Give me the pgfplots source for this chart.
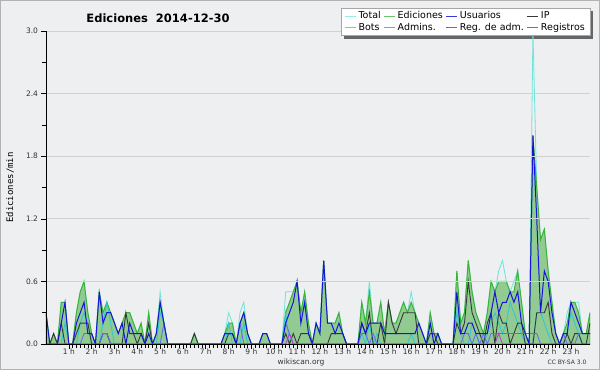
\documentclass[border=0pt]{standalone}
\usepackage{pgfplots}
\pgfplotsset{compat=1.18}
\usepackage{pgfplotstable}
\usepackage{fontspec}
\setmainfont{DejaVu Sans}
\setmonofont{DejaVu Sans Mono}
\pgfdeclarelayer{bg}
\pgfsetlayers{bg,main}
\definecolor{bgc}{RGB}{238,239,241}
\definecolor{ctotal}{RGB}{110,228,218}
\definecolor{cedit}{RGB}{55,180,55}
\definecolor{cfill}{RGB}{145,203,145}
\definecolor{cuser}{RGB}{20,20,220}
\definecolor{cip}{RGB}{55,55,55}
\definecolor{cbot}{RGB}{255,160,40}
\definecolor{cadmin}{RGB}{40,200,215}
\definecolor{cregadm}{RGB}{200,50,230}
\definecolor{creg}{RGB}{100,100,255}
\pgfplotstableread{
i T E U P A R M
0 .3 .3 .3 0 0 0 0
1 0 0 0 0 0 0 0
2 .1 .1 0 .1 0 0 0
3 0 0 0 0 0 0 0
4 .4 .4 .2 .2 0 0 0
5 .4 .4 .4 0 .2 0 0
6 0 0 0 0 0 0 0
7 0 0 0 0 0 0 0
8 .3 .3 .2 .1 0 0 0
9 .5 .5 .3 .2 .2 0 0
10 .6 .6 .4 .2 .3 .1 0
11 .3 .3 .1 .2 .2 .1 0
12 .1 .1 .1 0 0 .1 0
13 0 0 0 0 0 0 0
14 .5 .5 .5 0 0 0 0
15 .3 .3 .2 .1 .2 .1 0
16 .4 .4 .3 .1 .4 .1 0
17 .3 .3 .3 0 .2 0 0
18 .2 .2 .2 0 0 0 0
19 .1 .1 .1 0 0 0 0
20 .2 .2 .2 0 0 0 0
21 .3 .3 0 .3 0 0 0
22 .3 .3 .2 .1 0 0 0
23 .2 .2 .1 .1 0 0 0
24 .1 .1 .1 0 0 0 0
25 .2 .2 .1 .1 0 0 0
26 0 0 0 0 0 0 0
27 .3 .3 .1 .2 0 0 0
28 0 0 0 0 0 0 0
29 .1 .1 .1 0 0 0 0
30 .5 .4 .4 0 .3 0 0
31 .2 .2 .2 0 .2 .2 0
32 0 0 0 0 0 0 0
33 0 0 0 0 0 0 0
34 0 0 0 0 0 0 0
35 0 0 0 0 0 0 0
36 0 0 0 0 0 0 0
37 0 0 0 0 0 0 0
38 0 0 0 0 0 0 0
39 .1 .1 0 .1 0 0 0
40 0 0 0 0 0 0 0
41 0 0 0 0 0 0 0
42 0 0 0 0 0 0 0
43 0 0 0 0 0 0 0
44 0 0 0 0 0 0 0
45 0 0 0 0 0 0 0
46 0 0 0 0 0 0 0
47 .1 .1 .1 0 0 0 0
48 .3 .2 .1 .1 .2 0 0
49 .2 .2 .1 .1 0 0 0
50 0 0 0 0 0 0 0
51 .3 .2 .2 0 0 .2 0
52 .4 .3 .3 0 .2 0 0
53 .1 .1 .1 0 0 0 0
54 0 0 0 0 0 0 0
55 0 0 0 0 0 0 0
56 0 0 0 0 0 0 0
57 .1 .1 .1 0 0 0 0
58 .1 .1 .1 0 0 0 0
59 0 0 0 0 0 0 0
60 0 0 0 0 0 0 0
61 0 0 0 0 0 0 0
62 0 0 0 0 0 0 0
63 .5 .3 .2 .1 .3 .2 0
64 .5 .4 .3 0 0 .1 .1
65 .5 .5 .4 .1 0 0 0
66 .6 .6 .6 0 0 0 0
67 .3 .3 .2 .1 0 0 0
68 .5 .5 .4 .1 0 0 0
69 .2 .2 .1 .1 0 0 0
70 0 0 0 0 0 0 0
71 .2 .2 .2 0 0 0 0
72 .1 .1 .1 0 0 0 0
73 .8 .8 .8 0 0 0 0
74 .2 .2 .2 0 0 0 0
75 .2 .2 .2 .1 0 0 0
76 .2 .2 .1 .1 0 0 0
77 .3 .3 .2 .1 0 0 0
78 .1 .1 .1 .1 0 0 0
79 0 0 0 0 0 0 0
80 0 0 0 0 0 0 0
81 0 0 0 0 0 0 0
82 0 0 0 0 0 0 0
83 .4 .4 .2 .2 .1 .1 0
84 .2 .2 .1 .1 0 .1 0
85 .6 .5 .2 .3 .2 0 0
86 .2 .2 .2 0 0 .1 0
87 .2 .2 .2 0 .1 0 0
88 .4 .4 .2 .2 0 0 0
89 .1 .1 .1 0 0 0 0
90 .4 .4 .1 .4 0 0 0
91 .2 .2 .1 .2 0 0 0
92 .2 .2 .1 .1 0 0 0
93 .3 .3 .1 .2 0 0 0
94 .4 .4 .1 .3 0 0 0
95 .3 .3 .1 .3 0 0 0
96 .5 .4 .1 .3 .1 0 0
97 .3 .3 .1 .3 0 0 0
98 .2 .2 .2 0 0 0 0
99 .1 .1 .1 0 0 0 0
100 0 0 0 0 0 0 0
101 .3 .3 .2 .1 0 0 0
102 .1 .1 0 .1 0 0 0
103 .1 .1 .1 0 0 0 0
104 0 0 0 0 0 0 0
105 0 0 0 0 0 0 0
106 0 0 0 0 0 0 0
107 0 0 0 0 0 0 0
108 .7 .7 .5 .2 .3 0 0
109 .2 .2 .1 .1 .1 0 0
110 .3 .3 .1 .2 0 .1 0
111 .8 .8 .2 .6 0 .1 0
112 .5 .5 .2 .3 .2 0 0
113 .3 .3 .1 .2 .1 .1 0
114 .2 .2 .1 .1 0 0 0
115 .1 .1 .1 0 0 .1 0
116 .3 .3 .1 .2 .1 0 0
117 .6 .6 .3 .3 .2 .1 0
118 .5 .5 .5 0 .3 .1 0
119 .7 .6 .3 .3 .2 .1 .1
120 .8 .6 .4 .2 .1 .1 0
121 .6 .6 .4 .2 .2 .1 0
122 .5 .5 .5 0 .4 .1 0
123 .6 .5 .4 .1 .3 .1 0
124 .7 .7 .5 .2 .2 .1 0
125 .4 .4 .2 .2 .1 .1 0
126 .1 .1 .1 0 0 .1 0
127 0 0 0 0 0 .1 0
128 3.0 2.0 2.0 0 0 .1 0
129 1.5 1.5 1.2 .3 .3 .1 0
130 1.0 1.0 .3 .3 .3 0 0
131 1.1 1.1 .7 .3 .2 0 0
132 .7 .7 .6 .4 .1 0 0
133 .4 .4 .3 .1 0 0 0
134 .1 .1 .1 0 0 0 0
135 0 0 0 0 0 0 0
136 .1 .1 .1 0 0 .1 0
137 .3 .2 .1 .1 .1 0 0
138 .4 .4 .4 0 .3 0 0
139 .4 .4 .3 .1 .2 0 0
140 .4 .3 .2 .1 .1 .1 0
141 .1 .1 .1 0 0 .1 0
142 .1 .1 .1 0 0 .1 0
143 .3 .3 .1 .2 0 .1 0
}\data
\begin{document}
\begin{tikzpicture}[x=1pt,y=1pt]
\begin{pgfonlayer}{bg}
\fill[bgc] (0,0) rectangle (600,370);
\draw[gray!60, line width=1pt] (0.5,0.5) rectangle (599.5,369.5);
\end{pgfonlayer}
\useasboundingbox (0,0) rectangle (600,370);
\begin{axis}[
  at={(46pt,26pt)}, anchor=south west,
  width=544pt, height=313pt, scale only axis,
  xmin=0, xmax=143, ymin=0, ymax=3.0,
  axis x line*=bottom, axis y line*=left,
  axis line style={black, line width=0.8pt, -},
  axis on top,
  tick align=outside,
  major tick length=4.5pt, minor tick length=3.5pt,
  tick style={black, line width=0.6pt},
  xtick={6,12,...,138},
  xticklabels={1 h,2 h,3 h,4 h,5 h,6 h,7 h,8 h,9 h,10 h,11 h,12 h,13 h,14 h,15 h,16 h,17 h,18 h,19 h,20 h,21 h,22 h,23 h},
  minor x tick num=5,
  ytick={0,0.6,1.2,1.8,2.4,3.0},
  yticklabels={0.0,0.6,1.2,1.8,2.4,3.0},
  minor ytick={0.3,0.9,1.5,2.1,2.7},
  ymajorgrids, grid style={black!18, line width=0.7pt},
  ticklabel style={font=\fontsize{7.5}{8}\selectfont, text=black!80},
  xticklabel style={yshift=3.5pt},
  ylabel={\ttfamily Ediciones/min},
  ylabel style={at={(axis description cs:-0.066,0.5)}, anchor=center, font=\fontsize{9}{10}\selectfont},
  legend columns=4,
  legend cell align=left,
  legend style={name=leg, at={(axis description cs:1,1)}, anchor=north east, yshift=23pt,
    fill=white, draw=black!35, font=\fontsize{9.5}{10}\selectfont,
    inner xsep=3pt, inner ysep=1.5pt, row sep=-1pt,
    /tikz/every even column/.append style={column sep=1pt}},
  legend image code/.code={\draw[line width=1pt, #1] (0pt,0pt) -- (11pt,0pt);},
]
\addlegendimage{draw=ctotal!70}
\addlegendimage{draw=cedit!75}
\addlegendimage{draw=cuser!85}
\addlegendimage{draw=cip}
\addlegendimage{draw=cbot}
\addlegendimage{draw=cadmin}
\addlegendimage{draw=cregadm}
\addlegendimage{draw=creg}
\legend{Total,Ediciones,Usuarios,IP,Bots,Admins.,Reg. de adm.,Registros}
\addplot[ctotal, line width=0.8pt, forget plot] table[x=i,y=T]{\data};
\addplot[draw=cedit, line width=1pt, fill=cfill, forget plot] table[x=i,y=E]{\data} \closedcycle;
\addplot[cadmin, line width=0.8pt, forget plot] table[x=i,y=A]{\data};
\addplot[cip, line width=0.9pt, forget plot] table[x=i,y=P]{\data};
\addplot[creg, line width=0.8pt, forget plot] table[x=i,y=R]{\data};
\addplot[cuser, line width=1pt, forget plot] table[x=i,y=U]{\data};
\addplot[cregadm, line width=0.8pt, forget plot] table[x=i,y=M]{\data};
\end{axis}
\begin{pgfonlayer}{bg}
\fill[black!60] ([shift={(3pt,-3pt)}]leg.south west) rectangle ([shift={(3pt,-3pt)}]leg.north east);
\end{pgfonlayer}
\node[font=\fontsize{11.5}{13}\selectfont\bfseries] at (158,352) {Ediciones\ \ 2014-12-30};
\node[font=\fontsize{7.5}{8}\selectfont, text=black!80] at (301,8) {wikiscan.org};
\node[font=\fontsize{6}{7}\selectfont, text=black!80] at (567,8) {CC BY-SA 3.0};
\end{tikzpicture}
\end{document}
